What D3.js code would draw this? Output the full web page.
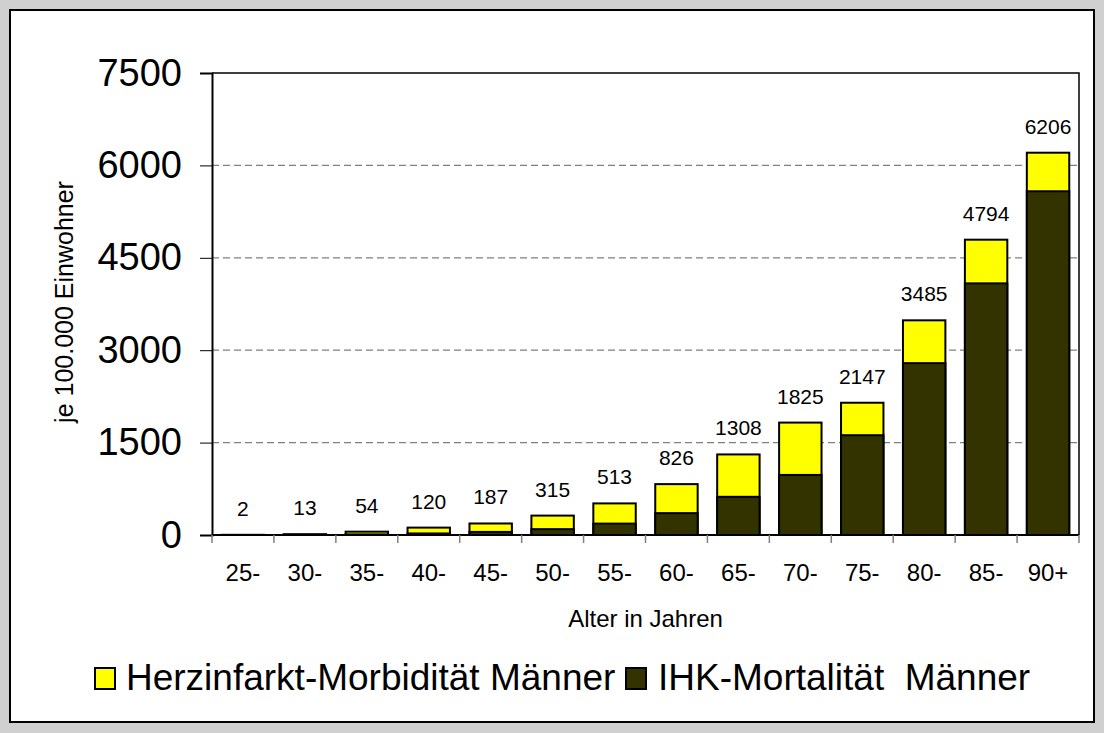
<!DOCTYPE html>
<html>
<head>
<meta charset="utf-8">
<script src="https://cdn.jsdelivr.net/npm/d3@7"></script>
<style>
  html, body { margin: 0; padding: 0; background: #d0d0d0; }
  svg { display: block; font-family: Arial, "Liberation Sans", sans-serif; }
</style>
</head>
<body>
<svg id="chart" width="1104" height="733"></svg>
<script>
const categories = ["25-", "30-", "35-", "40-", "45-", "50-", "55-", "60-", "65-", "70-", "75-", "80-", "85-", "90+"];
const morbidity = [2, 13, 54, 120, 187, 315, 513, 826, 1308, 1825, 2147, 3485, 4794, 6206];
const mortality = [1, 3, 10, 25, 50, 95, 185, 355, 620, 975, 1620, 2790, 4085, 5580];
const yTicks = [0, 1500, 3000, 4500, 6000, 7500];
const seriesNames = ["Herzinfarkt-Morbidität Männer", "IHK-Mortalität  Männer"];
const colors = ["#ffff00", "#333300"];

const svg = d3.select("#chart");
const plot = { left: 212, right: 1079, top: 73, bottom: 535 };

// outer frame
svg.append("rect").attr("x", 10).attr("y", 10).attr("width", 1084).attr("height", 712)
  .attr("fill", "#ffffff").attr("stroke", "#000").attr("stroke-width", 2);

const x = d3.scaleBand().domain(categories).range([plot.left, plot.right])
  .paddingInner(0.315).paddingOuter(0.1575);
const y = d3.scaleLinear().domain([0, 7500]).range([plot.bottom, plot.top]);

// gridlines
svg.append("g").selectAll("line").data(yTicks.filter(d => d > 0 && d < 7500)).join("line")
  .attr("x1", plot.left).attr("x2", plot.right)
  .attr("y1", d => y(d)).attr("y2", d => y(d))
  .attr("stroke", "#808080").attr("stroke-width", 1.3).attr("stroke-dasharray", "7,4");

// plot border top/right
svg.append("path")
  .attr("d", `M${plot.left},${y(7500)}H${plot.right}V${plot.bottom}`)
  .attr("fill", "none").attr("stroke", "#000").attr("stroke-width", 1.5);

// bars: morbidity behind, mortality in front (overlapping)
const step = x.step();
svg.append("g").selectAll("rect").data(categories).join("rect")
  .attr("x", d => x(d)).attr("width", x.bandwidth())
  .attr("y", (d, i) => y(morbidity[i]))
  .attr("height", (d, i) => y(0) - y(morbidity[i]))
  .attr("fill", colors[0]).attr("stroke", "#000").attr("stroke-width", 2);
svg.append("g").selectAll("rect").data(categories).join("rect")
  .attr("x", d => x(d)).attr("width", x.bandwidth())
  .attr("y", (d, i) => y(mortality[i]))
  .attr("height", (d, i) => y(0) - y(mortality[i]))
  .attr("fill", colors[1]).attr("stroke", "#000").attr("stroke-width", 2);

// data labels
svg.append("g").selectAll("text").data(categories).join("text")
  .attr("x", d => x(d) + x.bandwidth() / 2)
  .attr("y", (d, i) => y(morbidity[i]) - 19)
  .attr("text-anchor", "middle").attr("font-size", 21).attr("fill", "#000")
  .text((d, i) => morbidity[i]);

// y axis
const yAxis = d3.axisLeft(y).tickValues(yTicks).tickSize(12).tickPadding(18).tickFormat(d3.format("d"));
const gy = svg.append("g").attr("transform", `translate(${plot.left},0)`).call(yAxis);
gy.select(".domain").attr("stroke", "#000").attr("stroke-width", 2);
gy.selectAll(".tick line").attr("stroke", "#000").attr("stroke-width", 1);
gy.selectAll(".tick text").attr("font-size", 38).attr("font-family", "Arial, 'Liberation Sans', sans-serif").attr("fill", "#000");

// x axis
svg.append("line").attr("x1", plot.left).attr("x2", plot.right)
  .attr("y1", plot.bottom).attr("y2", plot.bottom).attr("stroke", "#000").attr("stroke-width", 2);
const boundaries = categories.map(d => x(d) - step * x.paddingInner() / 2).concat([plot.right]);
svg.append("g").selectAll("line").data(boundaries).join("line")
  .attr("x1", d => d).attr("x2", d => d)
  .attr("y1", plot.bottom).attr("y2", plot.bottom + 8)
  .attr("stroke", "#808080").attr("stroke-width", 1.5);
svg.append("g").selectAll("text").data(categories).join("text")
  .attr("x", d => x(d) + x.bandwidth() / 2).attr("y", 581)
  .attr("text-anchor", "middle").attr("font-size", 24).attr("fill", "#000")
  .text(d => d);

// axis titles
svg.append("text").attr("x", (plot.left + plot.right) / 2).attr("y", 627)
  .attr("text-anchor", "middle").attr("font-size", 24).attr("fill", "#000")
  .text("Alter in Jahren");
svg.append("text").attr("transform", "translate(73,302) rotate(-90)")
  .attr("text-anchor", "middle").attr("font-size", 25).attr("fill", "#000")
  .text("je 100.000 Einwohner");

// legend
const legendItems = [
  { name: seriesNames[0], color: colors[0], sx: 95, tx: 126 },
  { name: seriesNames[1], color: colors[1], sx: 626, tx: 658 }
];
const lg = svg.append("g");
lg.selectAll("rect").data(legendItems).join("rect")
  .attr("x", d => d.sx).attr("y", 668).attr("width", 20).attr("height", 21)
  .attr("fill", d => d.color).attr("stroke", "#000").attr("stroke-width", 2);
lg.selectAll("text").data(legendItems).join("text")
  .attr("x", d => d.tx).attr("y", 690)
  .attr("font-size", 37).attr("fill", "#000")
  .style("white-space", "pre")
  .text(d => d.name);
</script>
</body>
</html>
